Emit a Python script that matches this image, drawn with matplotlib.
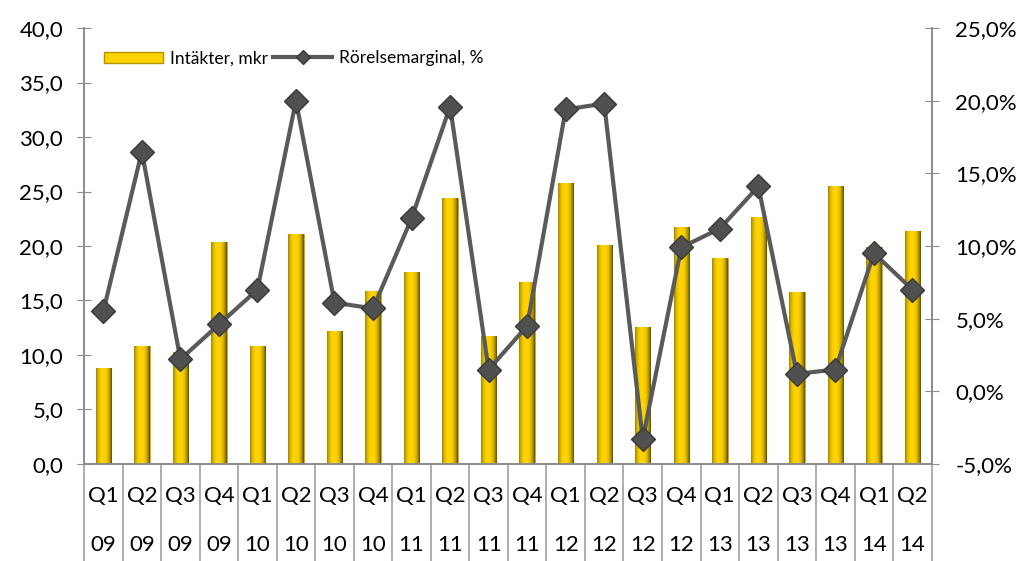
import numpy as np
import matplotlib.pyplot as plt
from matplotlib.ticker import FuncFormatter
from matplotlib.lines import Line2D
from matplotlib.patches import Patch

quarters = ['Q1', 'Q2', 'Q3', 'Q4', 'Q1', 'Q2', 'Q3', 'Q4', 'Q1', 'Q2', 'Q3',
            'Q4', 'Q1', 'Q2', 'Q3', 'Q4', 'Q1', 'Q2', 'Q3', 'Q4', 'Q1', 'Q2']
years = ['09', '09', '09', '09', '10', '10', '10', '10', '11', '11', '11',
         '11', '12', '12', '12', '12', '13', '13', '13', '13', '14', '14']
intakter = [8.8, 10.8, 10.3, 20.4, 10.8, 21.1, 12.2, 15.9, 17.6, 24.4, 11.7,
            16.7, 25.8, 20.1, 12.6, 21.7, 18.9, 22.7, 15.8, 25.5, 19.9, 21.4]
marginal = [5.5, 16.5, 2.2, 4.6, 7.0, 20.0, 6.1, 5.7, 11.9, 19.6, 1.5,
            4.5, 19.4, 19.8, -3.3, 9.9, 11.2, 14.1, 1.2, 1.5, 9.5, 7.0]

plt.rcParams['font.family'] = ['Lato', 'DejaVu Sans']

fig = plt.figure(figsize=(10.25, 5.61), dpi=100)
ax = fig.add_axes([0.082, 0.173, 0.827, 0.777])
x = np.arange(len(intakter))
bar_w = 0.4

# yellow bars with a horizontal gradient for the cylinder look
grad = np.linspace(0, 1, 64)
shade = 1 - 0.5 * (np.abs(grad - 0.45) * 2) ** 2.5
gold = np.array([1.0, 0.83, 0.0])
img = np.clip(gold[None, :] * shade[:, None], 0, 1)[None, :, :]
bars = ax.bar(x, intakter, bar_w, color='#FFD200', edgecolor='#B39300', linewidth=0.5, zorder=2)
for b in bars:
    im = ax.imshow(img, extent=[b.get_x(), b.get_x() + b.get_width(), 0, b.get_height()],
                   aspect='auto', zorder=2.1)
    im.set_clip_path(b)

ax.set_xlim(-0.5, len(intakter) - 0.5)
ax.set_ylim(0, 40)
ax.set_yticks(np.arange(0, 40.1, 5))
ax.yaxis.set_major_formatter(FuncFormatter(lambda v, p: f'{v:.1f}'.replace('.', ',')))
ax.set_xticks([])
ax.tick_params(axis='y', direction='inout', length=10, color='#8c8c8c', labelsize=16, pad=10)

ax2 = ax.twinx()
ax2.plot(x, marginal, color='#5a5a5a', linewidth=3, marker='D', markersize=12.5,
         markerfacecolor='#505050', markeredgecolor='#3a3a3a', zorder=3)
ax2.set_ylim(-5, 25)
ax2.set_yticks(np.arange(-5, 25.1, 5))
ax2.yaxis.set_major_formatter(FuncFormatter(lambda v, p: f'{v:.1f}%'.replace('.', ',')))
ax2.tick_params(axis='y', direction='inout', length=10, color='#8c8c8c', labelsize=16, pad=12)

for a in (ax, ax2):
    a.spines['top'].set_visible(False)
    for s in ('left', 'right', 'bottom'):
        a.spines[s].set_color('#8c8c8c')
        a.spines[s].set_linewidth(1.2)

# category separators and two-row labels below the axis
trans = ax.get_xaxis_transform()
for b in np.arange(-0.5, len(intakter), 1.0):
    ax.plot([b, b], [0, -0.23], transform=trans, color='#a0a0a0', lw=1.2, clip_on=False)
for i in x:
    ax.text(i, -0.073, quarters[i], transform=trans, ha='center', va='center', fontsize=16)
    ax.text(i, -0.186, years[i], transform=trans, ha='center', va='center', fontsize=16)

handles = [Patch(facecolor='#FFD200', edgecolor='#B39300'),
           Line2D([], [], color='#5a5a5a', lw=3, marker='D', markersize=7,
                  markerfacecolor='#505050', markeredgecolor='#3a3a3a')]
ax2.legend(handles, ['Intäkter, mkr', 'Rörelsemarginal, %'], loc='upper left', ncol=2,
           frameon=False, fontsize=12.5, bbox_to_anchor=(0.005, 0.985), handlelength=3.4,
           handleheight=0.6, handletextpad=0.4, columnspacing=0.3)

fig.savefig('out.png', dpi=100)
